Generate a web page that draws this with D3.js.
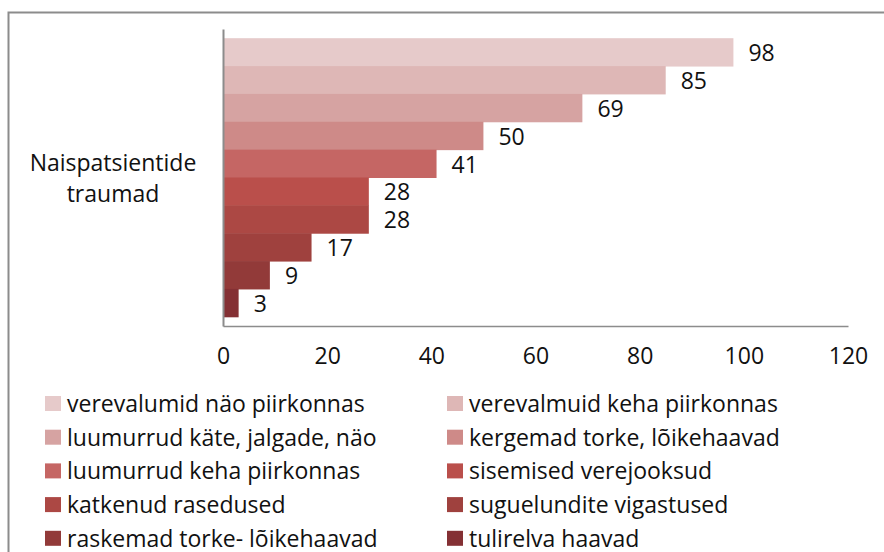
<!DOCTYPE html>
<html><head><meta charset="utf-8">
<script src="https://cdn.jsdelivr.net/npm/d3@7"></script>
<style>
body{margin:0;background:#fff;}
svg text{font-family:"Open Sans",sans-serif;fill:#111;}
</style></head>
<body><svg id="c" width="884" height="552"></svg>
<script>
const categories = ["verevalumid näo piirkonnas","verevalmuid keha piirkonnas","luumurrud käte, jalgade, näo","kergemad torke, lõikehaavad","luumurrud keha piirkonnas","sisemised verejooksud","katkenud rasedused","suguelundite vigastused","raskemad torke- lõikehaavad","tulirelva haavad"];
const values = [98,85,69,50,41,28,28,17,9,3];
const colors = ["#E6CACA","#DEB7B6","#D6A3A2","#CE8A88","#C56664","#BA4F4B","#AC4844","#9F413E","#923A39","#843034"];
const xTicks = [0,20,40,60,80,100,120];
const groupLabel = ["Naispatsientide","traumad"];
const FS = 23;

const svg = d3.select("#c");
// outer frame
svg.append("rect").attr("x",8.5).attr("y",12.5).attr("width",900).attr("height",600)
  .attr("fill","none").attr("stroke","#8c8c8c").attr("stroke-width",2);

const plot = {left:223, right:848, top:29, bottom:326};
const x = d3.scaleLinear().domain([0,120]).range([plot.left, plot.right]);
const outer = d3.scaleBand().domain(["g"]).range([plot.top, plot.bottom]).paddingInner(0).paddingOuter(0.033);
const y = d3.scaleBand().domain(d3.range(values.length)).range([outer("g"), outer("g")+outer.bandwidth()]).padding(0);

svg.selectAll("rect.bar").data(values).join("rect").attr("class","bar")
  .attr("x",x(0)).attr("y",(d,i)=>y(i)).attr("width",d=>x(d)-x(0)).attr("height",y.bandwidth()+0.5)
  .attr("fill",(d,i)=>colors[i]);

svg.selectAll("text.val").data(values).join("text").attr("class","val")
  .attr("x",d=>x(d)+15).attr("y",(d,i)=>y(i)+y.bandwidth()/2+1).attr("dy","0.35em")
  .attr("font-size",FS).text(d=>d);

// axes
const xAxis = d3.axisBottom(x).tickValues(xTicks).tickSize(0).tickPadding(22);
const gx = svg.append("g").attr("transform",`translate(0,${plot.bottom})`).call(xAxis);
gx.select(".domain").attr("stroke","#8c8c8c").attr("stroke-width",1.5);
gx.selectAll("text").attr("font-size",FS).attr("fill","#111").attr("font-family","Open Sans");

const yAxis = d3.axisLeft(d3.scaleLinear().range([plot.top, plot.bottom])).ticks(0).tickSize(0);
const gy = svg.append("g").attr("transform",`translate(${plot.left},0)`).call(yAxis);
gy.select(".domain").attr("stroke","#8c8c8c").attr("stroke-width",2);

svg.append("text").attr("x",113).attr("y",171).attr("text-anchor","middle").attr("font-size",FS)
  .selectAll("tspan").data(groupLabel).join("tspan").attr("x",113).attr("dy",(d,i)=>i?31:0).text(d=>d);

// legend
const leg = svg.append("g");
categories.forEach((c,i)=>{
  const col = i%2, row = Math.floor(i/2);
  const lx = col ? 447 : 45, ly = 396 + row*33.7;
  leg.append("rect").attr("x",lx).attr("y",ly).attr("width",16).attr("height",15).attr("fill",colors[i]);
  leg.append("text").attr("x",lx+22).attr("y",ly+8).attr("dy","0.35em").attr("font-size",FS).text(c);
});
</script></body></html>
